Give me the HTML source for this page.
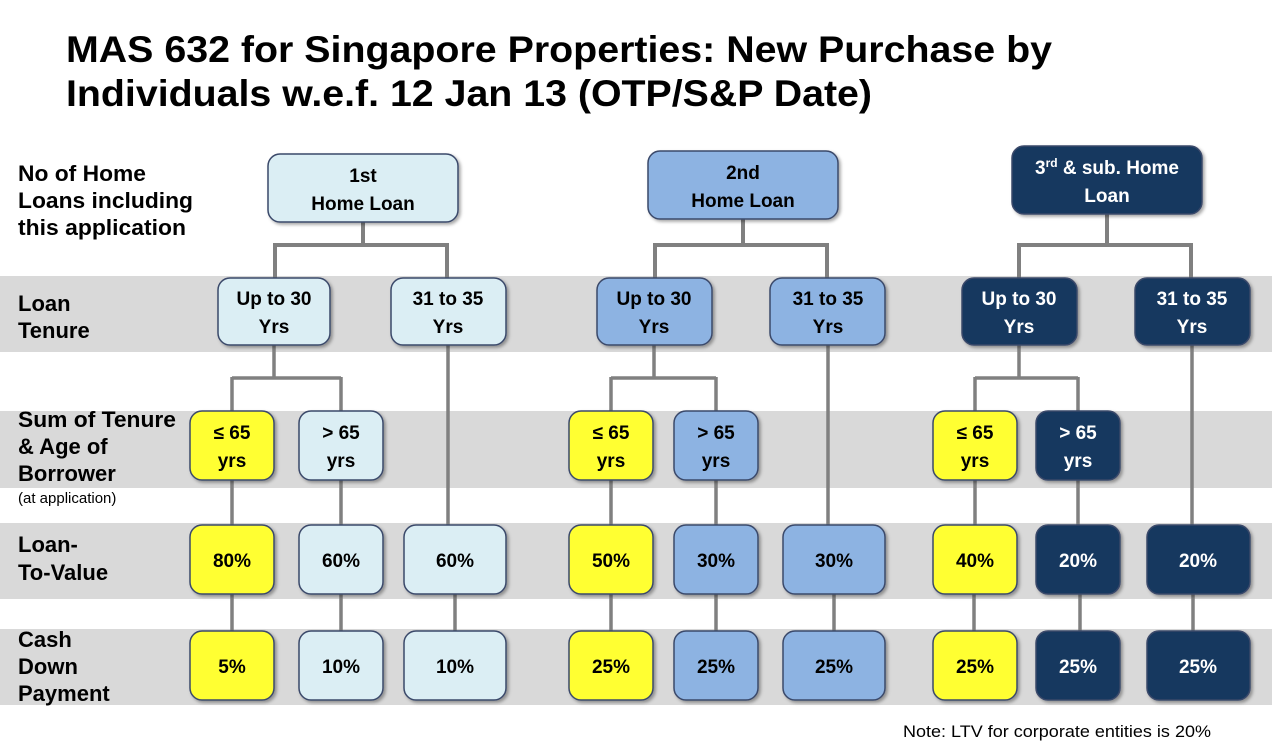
<!DOCTYPE html>
<html><head><meta charset="utf-8"><style>
html,body{margin:0;padding:0;background:#fff}
svg{display:block}
text{font-family:"Liberation Sans",Arial,sans-serif;font-weight:bold}
text.n{font-weight:normal}
</style></head><body>
<svg width="1272" height="749" viewBox="0 0 1272 749" xmlns="http://www.w3.org/2000/svg">
<defs>
<filter id="sh" x="-10%" y="-10%" width="130%" height="130%"><feDropShadow dx="2" dy="2" stdDeviation="1.5" flood-color="#000" flood-opacity="0.35"/></filter>
</defs>
<rect x="0" y="276" width="1272" height="76" fill="#d9d9d9"/>
<rect x="0" y="411" width="1272" height="77" fill="#d9d9d9"/>
<rect x="0" y="523" width="1272" height="76" fill="#d9d9d9"/>
<rect x="0" y="629" width="1272" height="76" fill="#d9d9d9"/>

<text x="66" y="62" font-size="37" textLength="986" lengthAdjust="spacingAndGlyphs" fill="#000">MAS 632 for Singapore Properties: New Purchase by</text>
<text x="66" y="106" font-size="37" textLength="806" lengthAdjust="spacingAndGlyphs" fill="#000">Individuals w.e.f. 12 Jan 13 (OTP/S&amp;P Date)</text>

<g font-size="22" fill="#000">
<text x="18" y="181" textLength="128" lengthAdjust="spacingAndGlyphs">No of Home</text>
<text x="18" y="208" textLength="175" lengthAdjust="spacingAndGlyphs">Loans including</text>
<text x="18" y="235" textLength="168" lengthAdjust="spacingAndGlyphs">this application</text>
<text x="18" y="311">Loan</text>
<text x="18" y="338">Tenure</text>
<text x="18" y="427" textLength="158" lengthAdjust="spacingAndGlyphs">Sum of Tenure</text>
<text x="18" y="454">&amp; Age of</text>
<text x="18" y="481">Borrower</text>
<text x="18" y="503" font-size="15" class="n">(at application)</text>
<text x="18" y="552">Loan-</text>
<text x="18" y="580">To-Value</text>
<text x="18" y="647">Cash</text>
<text x="18" y="674">Down</text>
<text x="18" y="701">Payment</text>
</g>

<g stroke="#808080" stroke-width="4" fill="none">
<path d="M363 222V245M275 245H447M275 243V278M447 243V278"/>
<path d="M743 219V245M655 245H827M655 243V278M827 243V278"/>
<path d="M1107 214V245M1019 245H1191M1019 243V278M1191 243V278"/>
</g>
<g stroke="#808080" stroke-width="3.5" fill="none">
<path d="M274 345V378M232 378H341M232 377V411M341 377V411M448 345V525M232 480V525M341 480V525"/>
<path d="M654 345V378M611 378H716M611 377V411M716 377V411M828 345V525M611 480V525M716 480V525"/>
<path d="M1019 345V378M975 378H1078M975 377V411M1078 377V411M1192 345V525M975 480V525M1078 480V525"/>
<path d="M232 594V631M341 594V631M455 594V631M611 594V631M716 594V631M834 594V631M974 594V631M1080 594V631M1193 594V631"/>
</g>

<g filter="url(#sh)" stroke="#3b4a6b" stroke-width="1.5">
<rect x="268" y="154" width="190" height="68" rx="12" fill="#dbeef4"/>
<rect x="648" y="151" width="190" height="68" rx="12" fill="#8db3e2"/>
<rect x="1012" y="146" width="190" height="68" rx="12" fill="#17375e"/>

<rect x="218" y="278" width="112" height="67" rx="12" fill="#dbeef4"/>
<rect x="391" y="278" width="115" height="67" rx="12" fill="#dbeef4"/>
<rect x="597" y="278" width="115" height="67" rx="12" fill="#8db3e2"/>
<rect x="770" y="278" width="115" height="67" rx="12" fill="#8db3e2"/>
<rect x="962" y="278" width="115" height="67" rx="12" fill="#17375e"/>
<rect x="1135" y="278" width="115" height="67" rx="12" fill="#17375e"/>

<rect x="190" y="411" width="84" height="69" rx="12" fill="#ffff33"/>
<rect x="299" y="411" width="84" height="69" rx="12" fill="#dbeef4"/>
<rect x="569" y="411" width="84" height="69" rx="12" fill="#ffff33"/>
<rect x="674" y="411" width="84" height="69" rx="12" fill="#8db3e2"/>
<rect x="933" y="411" width="84" height="69" rx="12" fill="#ffff33"/>
<rect x="1036" y="411" width="84" height="69" rx="12" fill="#17375e"/>

<rect x="190" y="525" width="84" height="69" rx="12" fill="#ffff33"/>
<rect x="299" y="525" width="84" height="69" rx="12" fill="#dbeef4"/>
<rect x="404" y="525" width="102" height="69" rx="12" fill="#dbeef4"/>
<rect x="569" y="525" width="84" height="69" rx="12" fill="#ffff33"/>
<rect x="674" y="525" width="84" height="69" rx="12" fill="#8db3e2"/>
<rect x="783" y="525" width="102" height="69" rx="12" fill="#8db3e2"/>
<rect x="933" y="525" width="84" height="69" rx="12" fill="#ffff33"/>
<rect x="1036" y="525" width="84" height="69" rx="12" fill="#17375e"/>
<rect x="1147" y="525" width="103" height="69" rx="12" fill="#17375e"/>

<rect x="190" y="631" width="84" height="69" rx="12" fill="#ffff33"/>
<rect x="299" y="631" width="84" height="69" rx="12" fill="#dbeef4"/>
<rect x="404" y="631" width="102" height="69" rx="12" fill="#dbeef4"/>
<rect x="569" y="631" width="84" height="69" rx="12" fill="#ffff33"/>
<rect x="674" y="631" width="84" height="69" rx="12" fill="#8db3e2"/>
<rect x="783" y="631" width="102" height="69" rx="12" fill="#8db3e2"/>
<rect x="933" y="631" width="84" height="69" rx="12" fill="#ffff33"/>
<rect x="1036" y="631" width="84" height="69" rx="12" fill="#17375e"/>
<rect x="1147" y="631" width="103" height="69" rx="12" fill="#17375e"/>
</g>

<g font-size="19" text-anchor="middle" fill="#000">
<text x="363" y="182">1st</text><text x="363" y="210">Home Loan</text>
<text x="743" y="179">2nd</text><text x="743" y="207">Home Loan</text>
<text x="274" y="305">Up to 30</text><text x="274" y="333">Yrs</text>
<text x="448" y="305">31 to 35</text><text x="448" y="333">Yrs</text>
<text x="654" y="305">Up to 30</text><text x="654" y="333">Yrs</text>
<text x="828" y="305">31 to 35</text><text x="828" y="333">Yrs</text>
<text x="232" y="439">≤ 65</text><text x="232" y="467">yrs</text>
<text x="341" y="439">&gt; 65</text><text x="341" y="467">yrs</text>
<text x="611" y="439">≤ 65</text><text x="611" y="467">yrs</text>
<text x="716" y="439">&gt; 65</text><text x="716" y="467">yrs</text>
<text x="975" y="439">≤ 65</text><text x="975" y="467">yrs</text>
<text x="232" y="567">80%</text><text x="341" y="567">60%</text><text x="455" y="567">60%</text>
<text x="611" y="567">50%</text><text x="716" y="567">30%</text><text x="834" y="567">30%</text>
<text x="975" y="567">40%</text>
<text x="232" y="673">5%</text><text x="341" y="673">10%</text><text x="455" y="673">10%</text>
<text x="611" y="673">25%</text><text x="716" y="673">25%</text><text x="834" y="673">25%</text>
<text x="975" y="673">25%</text>
</g>
<g font-size="19" text-anchor="middle" fill="#fff">
<text x="1107" y="174">3<tspan font-size="12" dy="-7">rd</tspan><tspan dy="7"> &amp; sub. Home</tspan></text>
<text x="1107" y="202">Loan</text>
<text x="1019" y="305">Up to 30</text><text x="1019" y="333">Yrs</text>
<text x="1192" y="305">31 to 35</text><text x="1192" y="333">Yrs</text>
<text x="1078" y="439">&gt; 65</text><text x="1078" y="467">yrs</text>
<text x="1078" y="567">20%</text><text x="1198" y="567">20%</text>
<text x="1078" y="673">25%</text><text x="1198" y="673">25%</text>
</g>
<text x="903" y="737" font-size="17" class="n" fill="#000" textLength="308" lengthAdjust="spacingAndGlyphs">Note: LTV for corporate entities is 20%</text>
</svg>
</body></html>
